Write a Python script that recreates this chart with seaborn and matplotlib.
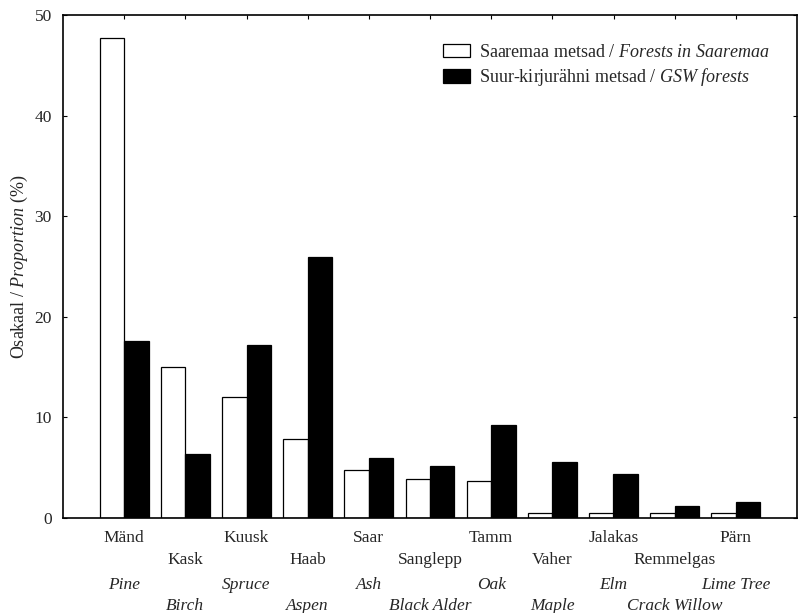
import matplotlib
matplotlib.use("Agg")
import numpy as np
import pandas as pd
import seaborn as sns
import matplotlib.pyplot as plt
from matplotlib.transforms import blended_transform_factory

species_et = ["Mänd", "Kask", "Kuusk", "Haab", "Saar", "Sanglepp", "Tamm",
              "Vaher", "Jalakas", "Remmelgas", "Pärn"]
species_en = ["Pine", "Birch", "Spruce", "Aspen", "Ash", "Black Alder", "Oak",
              "Maple", "Elm", "Crack Willow", "Lime Tree"]
saaremaa = [47.7, 15.0, 12.0, 7.9, 4.8, 3.9, 3.7, 0.5, 0.5, 0.5, 0.5]
gsw = [17.6, 6.4, 17.2, 25.9, 6.0, 5.2, 9.2, 5.6, 4.4, 1.2, 1.6]
series_names = ["Saaremaa metsad / $\\mathit{Forests\\ in\\ Saaremaa}$",
                "Suur-kirjurähni metsad / $\\mathit{GSW\\ forests}$"]
yticks = [0, 10, 20, 30, 40, 50]

sns.set_theme(style="ticks")
plt.rcParams["font.family"] = ["Liberation Serif", "DejaVu Serif"]
plt.rcParams["mathtext.fontset"] = "custom"
plt.rcParams["mathtext.rm"] = "Liberation Serif"
plt.rcParams["mathtext.it"] = "Liberation Serif:italic"

df = pd.DataFrame({
    "species": species_et * 2,
    "value": saaremaa + gsw,
    "series": [series_names[0]] * len(species_et) + [series_names[1]] * len(species_et),
})

fig = plt.figure(figsize=(7.99, 6.13), dpi=100)
ax = fig.add_axes([63 / 799, 1 - 518 / 613, (797 - 63) / 799, (518 - 15) / 613])

sns.barplot(data=df, x="species", y="value", hue="series", order=species_et,
            hue_order=series_names, palette=["white", "black"], saturation=1,
            edgecolor="black", linewidth=0.9, width=0.8, ax=ax)

ax.set_xlim(-1, 11)
ax.set_ylim(0, 50)
ax.set_yticks(yticks)
ax.set_yticklabels([str(t) for t in yticks], fontsize=12.5)
ax.set_xticks(range(len(species_et)))
ax.tick_params(axis="x", direction="in", top=True, bottom=False,
               labelbottom=False, length=3, width=0.8, color="black")
ax.tick_params(axis="y", direction="in", left=True, right=True,
               length=3, width=0.8, color="black", pad=8)
for s in ax.spines.values():
    s.set_visible(True)
    s.set_linewidth(1.2)
    s.set_color("black")
ax.set_xlabel("")
ax.set_ylabel("Osakaal / $\\mathit{Proportion}$ (%)", fontsize=13, labelpad=3)

trans = blended_transform_factory(ax.transData, fig.transFigure)
for i, (et, en) in enumerate(zip(species_et, species_en)):
    y1 = 538 if i % 2 == 0 else 560
    y2 = 585 if i % 2 == 0 else 606
    ax.text(i, 1 - y1 / 613, et, transform=trans, ha="center", va="center", fontsize=12.5)
    ax.text(i, 1 - y2 / 613, en, transform=trans, ha="center", va="center",
            fontsize=12.5, style="italic")

handles, labels = ax.get_legend_handles_labels()
if ax.get_legend() is not None:
    ax.get_legend().remove()
ax.legend(handles, labels, loc="upper right", bbox_to_anchor=(0.984, 0.975),
          frameon=False, fontsize=13, handlelength=1.45, handleheight=0.75,
          handletextpad=0.5, labelspacing=0.3)

fig.savefig("out.png", dpi=100)
